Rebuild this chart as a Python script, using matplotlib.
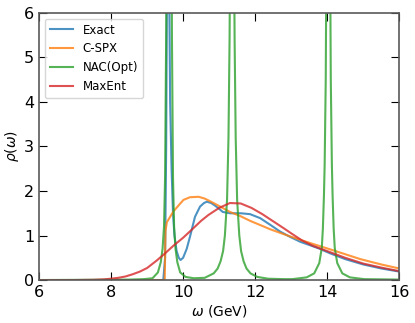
import numpy as np
from matplotlib import pyplot as plt

# values
exact_w = [6.0, 9.0, 9.45, 9.5, 9.53, 9.56, 9.58, 9.61, 9.64, 9.68, 9.72, 9.76, 9.82, 9.88, 9.93,
           10.0, 10.1, 10.19, 10.33, 10.47, 10.58, 10.66, 10.78, 10.89, 11.0, 11.1, 11.3, 11.6,
           11.86, 12.14, 12.42, 12.69, 12.97, 13.25, 13.53, 13.8, 14.08, 14.5, 15.0, 15.5, 16.0]
exact_r = [0.0, 0.0, 0.0, 0.5, 3.0, 8.0, 10.0, 7.0, 4.0, 2.5, 1.5, 1.0, 0.65, 0.5, 0.45,
           0.5, 0.7, 0.97, 1.42, 1.65, 1.73, 1.76, 1.73, 1.67, 1.6, 1.53, 1.5, 1.5,
           1.48, 1.39, 1.24, 1.09, 0.97, 0.86, 0.78, 0.7, 0.6, 0.47, 0.35, 0.26, 0.19]

cspx_w = [6.0, 9.0, 9.49, 9.51, 9.55, 9.73, 9.9, 10.01, 10.19, 10.43, 10.6, 10.75, 11.03, 11.3,
          11.58, 11.86, 12.42, 12.97, 13.53, 14.08, 14.5, 14.92, 15.5, 16.0]
cspx_r = [0.0, 0.0, 0.0, 1.1, 1.3, 1.54, 1.7, 1.8, 1.86, 1.87, 1.83, 1.77, 1.65, 1.53,
          1.44, 1.33, 1.14, 0.98, 0.83, 0.69, 0.58, 0.47, 0.35, 0.26]

nac_w = [6.0, 8.5, 8.9, 9.15, 9.3, 9.38, 9.43, 9.47, 9.5, 9.53, 9.55, 9.57, 9.61, 9.65, 9.67,
         9.69, 9.72, 9.75, 9.79, 9.84, 9.92, 10.07, 10.3, 10.6,
         10.85, 10.96, 11.04, 11.11, 11.16, 11.22, 11.26, 11.29, 11.31, 11.33, 11.36, 11.39,
         11.41, 11.43, 11.46, 11.5, 11.56, 11.61, 11.68, 11.76, 11.87, 12.06, 12.36, 12.8,
         13.03, 13.43, 13.64, 13.78, 13.85, 13.88, 13.91, 13.93, 13.96, 13.98, 14.0, 14.03,
         14.06, 14.08, 14.1, 14.13, 14.15, 14.18, 14.21, 14.28, 14.42, 14.63, 15.03, 16.0]
nac_r = [0.0, 0.01, 0.02, 0.04, 0.17, 0.4, 0.7, 1.2, 2.3, 5.5, 9.0, 12.0, 15.0, 12.0, 9.0,
         5.5, 2.3, 1.2, 0.7, 0.4, 0.17, 0.07, 0.04, 0.05,
         0.15, 0.26, 0.42, 0.65, 1.0, 1.8, 3.2, 5.4, 8.0, 11.8, 16.0, 11.8,
         8.0, 5.4, 3.2, 1.8, 1.0, 0.65, 0.42, 0.26, 0.15, 0.07, 0.03, 0.02,
         0.02, 0.06, 0.15, 0.38, 0.72, 1.15, 1.9, 2.6, 4.5, 7.5, 11.0, 15.0,
         11.0, 7.5, 4.5, 2.6, 1.9, 1.15, 0.72, 0.38, 0.15, 0.06, 0.02, 0.01]

maxent_w = [6.0, 7.0, 7.5, 7.8, 8.0, 8.2, 8.4, 8.6, 8.8, 9.0, 9.27, 9.5, 9.73, 10.0, 10.2, 10.5,
            10.7, 11.0, 11.3, 11.6, 11.9, 12.2, 12.5, 12.8, 13.0, 13.3, 13.6, 14.0, 14.5, 15.0,
            15.5, 16.0]
maxent_r = [0.0, 0.0, 0.005, 0.015, 0.03, 0.05, 0.08, 0.13, 0.19, 0.27, 0.44, 0.6, 0.77, 0.95, 1.1,
            1.33, 1.46, 1.62, 1.73, 1.72, 1.62, 1.48, 1.32, 1.16, 1.05, 0.89, 0.77, 0.65, 0.5,
            0.37, 0.28, 0.2]

curves = [("Exact", exact_w, exact_r, "tab:blue"),
          ("C-SPX", cspx_w, cspx_r, "tab:orange"),
          ("NAC(Opt)", nac_w, nac_r, "tab:green"),
          ("MaxEnt", maxent_w, maxent_r, "tab:red")]

fig = plt.figure(figsize=(4.15, 3.23), dpi=100)
ax = fig.add_axes([0.094, 0.133, 0.868, 0.827])

for name, w, r, c in curves:
    ax.plot(w, r, color=c, lw=1.5, alpha=0.8, label=name)

ax.set_xlim(6, 16)
ax.set_ylim(0, 6)
ax.set_xticks([6, 8, 10, 12, 14, 16])
ax.set_yticks([0, 1, 2, 3, 4, 5, 6])
ax.tick_params(direction="in", top=True, right=True, length=5.8, width=0.8,
               labelsize=11.5, pad=3.5)
for s in ax.spines.values():
    s.set_color("#5a5a5a")
    s.set_linewidth(1.2)

ax.set_xlabel(r"$\omega$ (GeV)", fontsize=10, labelpad=2)
ax.set_ylabel(r"$\rho(\omega)$", fontsize=10, labelpad=2)
ax.legend(loc="upper left", fontsize=8.5)

fig.savefig("out.png", dpi=100)
